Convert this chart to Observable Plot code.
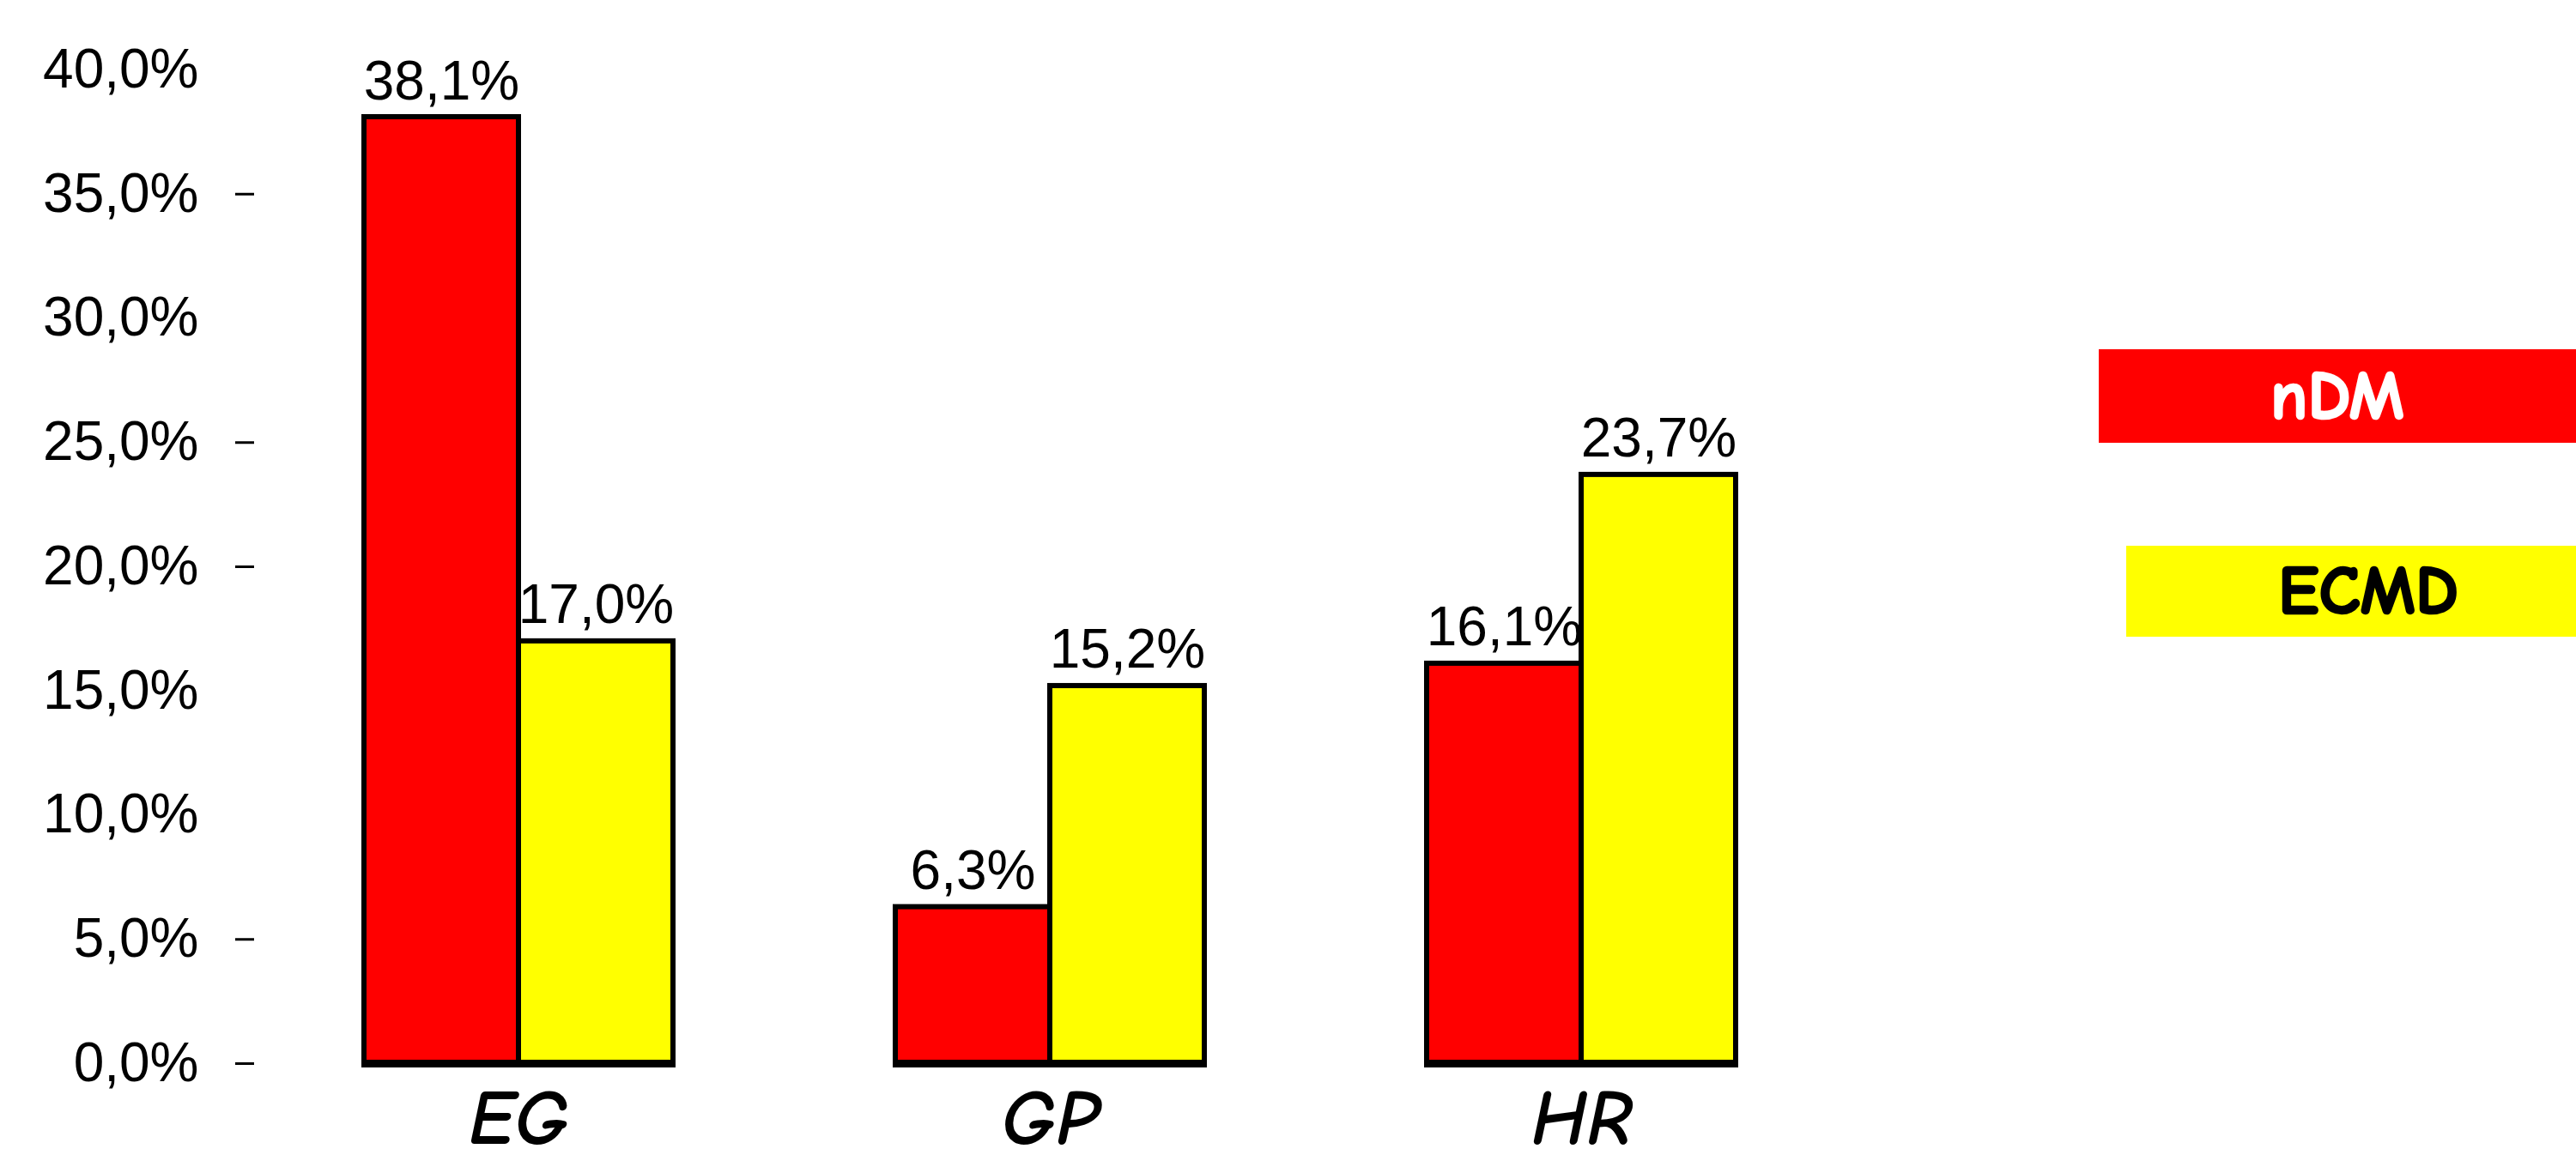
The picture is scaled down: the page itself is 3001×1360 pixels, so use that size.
<!DOCTYPE html>
<html>
<head>
<meta charset="utf-8">
<script src="https://cdn.jsdelivr.net/npm/d3@7"></script>
<script src="https://cdn.jsdelivr.net/npm/@observablehq/plot@0.6"></script>
<style>
  html, body { margin: 0; padding: 0; background: #ffffff; }
  #wrap { position: relative; width: 3001px; height: 1360px; overflow: hidden; background: #ffffff; }
  #chart svg { display: block; max-width: none; }
  .key {
    position: absolute; right: 0; display: flex; align-items: center; justify-content: center;
    font-family: "Comic Sans MS", "Comic Neue", "DejaVu Sans", sans-serif; font-weight: bold; font-size: 80px;
    -webkit-text-stroke: 2.5px currentColor;
  }
</style>
</head>
<body>
<div id="wrap">
  <div id="chart"></div>
  <div class="key" style="left:2445px; top:407px; height:109px; background:#ff0000; color:#ffffff;"><span>nDM</span></div>
  <div class="key" style="left:2477px; top:636px; height:106px; background:#ffff00; color:#000000; padding-left:40px;"><span>ECMD</span></div>
</div>
<script>
// Groups and series
const categories = ["EG", "GP", "HR"];
const series = ["nDM", "ECMD"];
const seriesColors = ["#ff0000", "#ffff00"];

// Percent values per group
const nDMValues = [38.1, 6.3, 16.1];
const ECMDValues = [17.0, 15.2, 23.7];

// Y axis labels, and the values that also carry a tick dash
const yTickValues = [0, 5, 10, 15, 20, 25, 30, 35, 40];
const yDashValues = [0, 5, 20, 25, 35];

const fmt = v => v.toFixed(1).replace(".", ",") + "%";

const rows = [];
categories.forEach((c, i) => {
  rows.push({category: c, series: "nDM", value: nDMValues[i]});
  rows.push({category: c, series: "ECMD", value: ECMDValues[i]});
});
const rowsNDM = rows.filter(d => d.series === "nDM");
const rowsECMD = rows.filter(d => d.series === "ECMD");

const labelFont = "Liberation Sans, Arial, sans-serif";
const comicFont = "'Comic Sans MS', 'Comic Neue', 'DejaVu Sans', sans-serif";

const barOpts = {
  fx: "category", x: "series", y: "value", fill: "series",
  stroke: "#000000", strokeWidth: 6
};
const textOpts = {
  fx: "category", x: "series", y: "value", text: d => fmt(d.value),
  lineAnchor: "bottom", dy: -21, fontSize: 64, fontFamily: labelFont, fill: "#000000"
};

const chart = Plot.plot({
  width: 3001,
  height: 1360,
  marginTop: 81,
  marginBottom: 121,
  marginLeft: 423,
  marginRight: 978,
  style: {background: "#ffffff", fontFamily: labelFont, maxWidth: "none", overflow: "visible"},
  fx: {domain: categories, paddingInner: 0.419, paddingOuter: 0, label: null},
  x: {domain: series, padding: 0, axis: null},
  y: {domain: [0, 40], axis: null},
  color: {domain: series, range: seriesColors},
  marks: [
    Plot.axisY({
      ticks: yTickValues, tickSize: 0, tickPadding: 65, dx: -128,
      tickFormat: fmt, fontSize: 64, fontFamily: labelFont, fill: "#000000", label: null
    }),
    Plot.axisY({
      ticks: yDashValues, tickSize: 22, tickPadding: 0, dx: -128,
      tickFormat: () => "", strokeWidth: 3, stroke: "#000000", label: null
    }),
    Plot.axisFx({
      anchor: "bottom", tickSize: 0, tickPadding: 30, label: null,
      fontSize: 90, fontWeight: "bold", fontStyle: "italic",
      fontFamily: comicFont, fill: "#000000", stroke: "#000000", strokeWidth: 4
    }),
    Plot.barY(rowsNDM, barOpts),
    Plot.text(rowsNDM, textOpts),
    Plot.barY(rowsECMD, barOpts),
    Plot.text(rowsECMD, textOpts),
    Plot.ruleY([0], {stroke: "#000000", strokeWidth: 9, insetLeft: -3, insetRight: -3})
  ]
});

document.getElementById("chart").appendChild(chart);
</script>
</body>
</html>
